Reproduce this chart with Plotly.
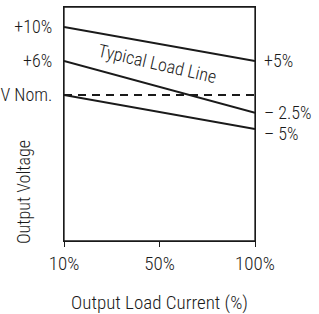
import plotly.graph_objects as go

# Data (schematic values; y in % deviation from V nominal)
x_pos = [0, 2]
x_tickvals = [0, 1, 2]
x_ticktext = ["10%", "50%", "100%"]

upper_line = [10, 5]
typical_line = [5, -2.6]
lower_line = [0, -5]
nominal_line = [0, 0]

left_tickvals = [10, 5, 0]
left_ticktext = ["+10%", "+6%", "V Nom."]
right_tickvals = [5, -2.6, -5.7]
right_ticktext = ["+5%", "\u2013 2.5%", "\u2013 5%"]

FONT = "Roboto Condensed, Liberation Sans Narrow, Arial Narrow, Liberation Sans, sans-serif"
Y_RANGE = [-21.47, 12.94]
INK = "#1a1a1a"
FS = 18

fig = go.Figure()
for ys in (upper_line, typical_line, lower_line):
    fig.add_trace(go.Scatter(x=x_pos, y=ys, mode="lines",
                             line=dict(color=INK, width=2), showlegend=False,
                             hoverinfo="skip"))
fig.add_trace(go.Scatter(x=x_pos, y=nominal_line, mode="lines",
                         line=dict(color=INK, width=2, dash="8px,6px"),
                         showlegend=False, hoverinfo="skip"))
fig.add_trace(go.Scatter(x=x_pos, y=nominal_line, yaxis="y2", mode="lines",
                         line=dict(width=0), opacity=0, showlegend=False, hoverinfo="skip"))

fig.add_annotation(x=0.98, y=4.7, text="Typical Load Line", showarrow=False,
                   textangle=13, font=dict(family=FONT, size=18, color=INK, weight=300))
fig.add_annotation(x=(23 - 64) / 191, y=(241 - 192) / 234, xref="paper", yref="paper",
                   text="Output Voltage", showarrow=False, textangle=-90,
                   xanchor="center", yanchor="middle",
                   font=dict(family=FONT, size=18, color=INK, weight=300))

# plot-area frame
fig.add_shape(type="rect", xref="paper", yref="paper", x0=0, y0=0, x1=1, y1=1,
              line=dict(color=INK, width=1.3), layer="above")

fig.update_layout(
    width=319, height=314,
    margin=dict(l=64, r=64, t=7, b=73, autoexpand=False),
    paper_bgcolor="white", plot_bgcolor="white",
    font=dict(family=FONT, color=INK, weight=300),
    xaxis=dict(range=[0, 2], tickvals=x_tickvals, ticktext=x_ticktext,
               showgrid=False, zeroline=False, showline=True, mirror=True,
               linecolor=INK, linewidth=1.3, ticks="outside", ticklen=5,
               tickcolor=INK, tickfont=dict(size=FS + 1, weight=300), automargin=False,
               title=dict(text="Output Load Current (%)", font=dict(size=FS + 1, weight=300),
                          standoff=22)),
    yaxis=dict(range=Y_RANGE, tickvals=left_tickvals, ticktext=left_ticktext,
               showgrid=False, zeroline=False, showline=True, mirror=True,
               linecolor=INK, linewidth=1.3, ticks="", tickfont=dict(size=FS, weight=300),
               ticklabelstandoff=7, automargin=False),
    yaxis2=dict(range=Y_RANGE, overlaying="y", side="right", tickvals=right_tickvals,
                ticktext=right_ticktext, showgrid=False, zeroline=False, showline=False,
                ticks="", tickfont=dict(size=FS, weight=300), ticklabelstandoff=8,
                automargin=False),
)

fig.write_html("out.html", config={"displayModeBar": False},
               post_script="document.body.style.margin='0';")
